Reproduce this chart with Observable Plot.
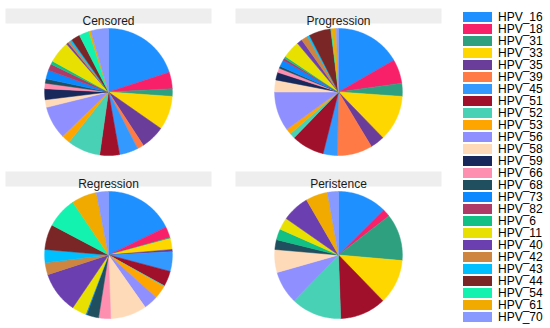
<!DOCTYPE html>
<html><head><meta charset="utf-8">
<script src="https://cdn.jsdelivr.net/npm/d3@7"></script>
<script src="https://cdn.jsdelivr.net/npm/@observablehq/plot@0.6"></script>
<style>
body{margin:0;background:#fff;font-family:"Liberation Sans",Arial,sans-serif;}
#wrap{position:relative;width:550px;height:328px;overflow:hidden;}
#chart{position:absolute;left:0;top:0;}
#legend{position:absolute;left:463px;top:11px;}
#legend .lg-swatch{height:12px;padding-bottom:0 !important;margin:0 !important;display:flex;align-items:center;overflow:visible !important;}
#legend .lg-swatch svg{margin-right:6px !important;}
#legend .lg-swatch-label{line-height:12px;overflow:visible !important;white-space:nowrap;}
</style></head>
<body><div id="wrap"><div id="chart"></div><div id="legend"></div></div>
<script>
const categories = ["HPV_16","HPV_18","HPV_31","HPV_33","HPV_35","HPV_39","HPV_45","HPV_51","HPV_52","HPV_53","HPV_56","HPV_58","HPV_59","HPV_66","HPV_68","HPV_73","HPV_82","HPV_6","HPV_11","HPV_40","HPV_42","HPV_43","HPV_44","HPV_54","HPV_61","HPV_70"];
const palette = ["#1E90FF","#F9206A","#2FA07F","#FFD700","#6A3D9A","#FF7A45","#3399FF","#A0102A","#48D1B5","#FFA500","#8F8FFF","#FFDAB9","#18285A","#FF8FB0","#20505F","#0A88FF","#B03A66","#12BF85","#E8E000","#6B3FB0","#CD853F","#00BFFF","#7A2626","#14F2B0","#F0AA00","#8899FF"];
const panels = ["Censored","Progression","Regression","Peristence"];
const censored    = [72,15,7,31,22,6,17,18,30,8,30,7,10,5,4,8,6,3,20,2,2,2,8,9,2,16];
const progression = [60,22,12,42,13,32,13,30,5,5,36,11,7,4,2,6,2,2,16,5,6,2,20,1,4,2];
const regression  = [64,10,1,10,2,0,18,14,1,12,13,33,0,11,11,1,0,0,13,38,11,12,23,28,23,11];
const peristence  = [45,7,43,41,0,0,0,42,46,0,30,21,0,0,9,0,0,10,11,25,0,0,0,0,20,10];
const series = [censored, progression, regression, peristence];

// build slice outlines from the values (angles clockwise from 12 o'clock)
const rows = [];
const panelRows = panels.map((p, i) => ({panel: p, col: i % 2, row: Math.floor(i / 2)}));
series.forEach((vals, i) => {
  const total = d3.sum(vals);
  let a0 = 0;
  vals.forEach((v, j) => {
    if (!v) return;
    const a1 = a0 + v / total * 2 * Math.PI;
    const key = panels[i] + "|" + categories[j];
    const base = {panel: panels[i], col: i % 2, row: Math.floor(i / 2), cat: categories[j], key};
    rows.push({...base, x: 0, y: 0});
    const n = Math.max(2, Math.ceil((a1 - a0) / (Math.PI / 180)));
    for (let k = 0; k <= n; k++) {
      const a = a0 + (a1 - a0) * k / n;
      rows.push({...base, x: Math.sin(a), y: Math.cos(a)});
    }
    rows.push({...base, x: 0, y: 0});
    a0 = a1;
  });
});

const font = "Liberation Sans, Arial, Helvetica, sans-serif";
const chart = Plot.plot({
  width: 447, height: 328,
  marginLeft: 5, marginRight: 5, marginTop: 23, marginBottom: 5,
  style: {fontFamily: font, background: "#fff", color: "#1a1a1a"},
  fx: {axis: null, paddingInner: 0.1041, paddingOuter: 0},
  fy: {axis: null, paddingInner: 0.1707, paddingOuter: 0},
  x: {axis: null, domain: [-1.613, 1.613]},
  y: {axis: null, domain: [-1.0625, 1.0625]},
  color: {domain: categories, range: palette},
  marks: [
    Plot.frame({fill: "#eeeeee", stroke: "none", insetTop: -16, insetBottom: 136}),
    Plot.text(panelRows, {fx: "col", fy: "row", text: "panel", frameAnchor: "top", dy: -8, fontSize: 12, fill: "#1a1a1a"}),
    Plot.line(rows, {x: "x", y: "y", z: "key", fx: "col", fy: "row", fill: "cat", stroke: "cat", strokeWidth: 0.5, curve: "linear"})
  ]
});
document.getElementById("chart").appendChild(chart);

const legend = Plot.legend({
  color: {domain: categories, range: palette},
  legend: "swatches", columns: 1, swatchWidth: 29, swatchHeight: 10,
  className: "lg",
  style: {fontSize: "12px", fontFamily: font, color: "#000", margin: "0"}
});
document.getElementById("legend").appendChild(legend);
</script></body></html>
